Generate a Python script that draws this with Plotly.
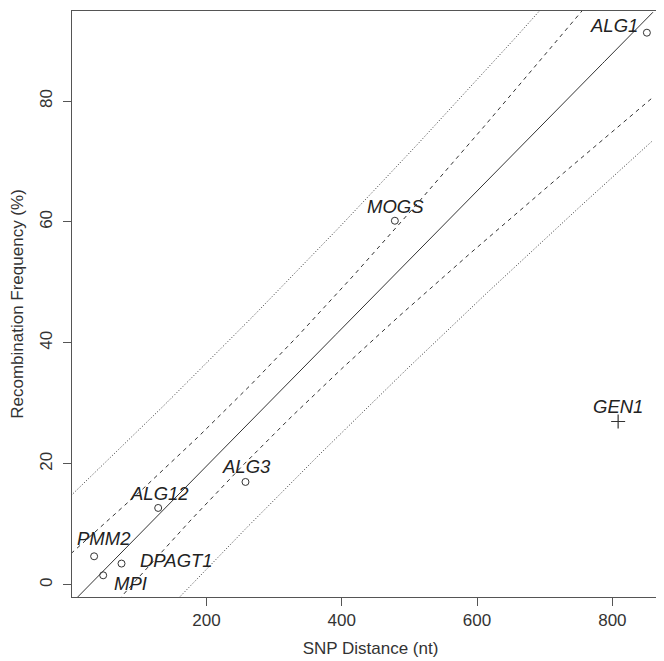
import numpy as np
import plotly.graph_objects as go

# genes used for the fit
genes = ["PMM2", "MPI", "DPAGT1", "ALG12", "ALG3", "MOGS", "ALG1"]
snp_dist = [34, 47.4, 74.5, 128.7, 257.7, 478.5, 851]
recomb_freq = [4.7, 1.56, 3.5, 12.7, 17.0, 60.2, 91.3]

# outlier, left out of the fit
outlier_gene = ["GEN1"]
outlier_dist = [808.5]
outlier_freq = [27.0]

x_ticks = [200, 400, 600, 800]
y_ticks = [0, 20, 40, 60, 80]

# label offsets in px (xshift, yshift)
label_shift = {
    "PMM2": (10, 18), "MPI": (27, -8), "DPAGT1": (55, 3), "ALG12": (1, 14),
    "ALG3": (1, 15), "MOGS": (1, 14), "ALG1": (-33, 7), "GEN1": (0, 15),
}

# linear fit with 95% confidence and prediction bands
x = np.array(snp_dist)
y = np.array(recomb_freq)
n = len(x)
slope, intercept = np.polyfit(x, y, 1)
resid = y - (slope * x + intercept)
s = np.sqrt(np.sum(resid ** 2) / (n - 2))
sxx = np.sum((x - x.mean()) ** 2)
t = 2.570582  # t(0.975, df=5)
xs = np.linspace(0, 860, 300)
fit = slope * xs + intercept
ci = t * s * np.sqrt(1 / n + (xs - x.mean()) ** 2 / sxx)
pi = t * s * np.sqrt(1 + 1 / n + (xs - x.mean()) ** 2 / sxx)

all_x = snp_dist + outlier_dist
all_y = recomb_freq + outlier_freq
xr = [min(all_x) - 0.04 * (max(all_x) - min(all_x)), max(all_x) + 0.04 * (max(all_x) - min(all_x))]
yr = [min(all_y) - 0.04 * (max(all_y) - min(all_y)), max(all_y) + 0.04 * (max(all_y) - min(all_y))]

fig = go.Figure()
line_col = "#333333"
fig.add_trace(go.Scatter(x=xs, y=fit, mode="lines", line=dict(color=line_col, width=1)))
for sign in (1, -1):
    fig.add_trace(go.Scatter(x=xs, y=fit + sign * ci, mode="lines",
                             line=dict(color=line_col, width=1, dash="4px,4px")))
    fig.add_trace(go.Scatter(x=xs, y=fit + sign * pi, mode="lines",
                             line=dict(color=line_col, width=1, dash="1px,2px")))

fig.add_trace(go.Scatter(x=snp_dist, y=recomb_freq, mode="markers",
                         marker=dict(symbol="circle-open", size=7, color=line_col,
                                     line=dict(width=1))))
fig.add_trace(go.Scatter(x=outlier_dist, y=outlier_freq, mode="markers",
                         marker=dict(symbol="cross-thin-open", size=10, color=line_col,
                                     line=dict(width=1.2, color=line_col))))

for g, gx, gy in zip(genes + outlier_gene, all_x, all_y):
    dx, dy = label_shift[g]
    fig.add_annotation(x=gx, y=gy, text=g, showarrow=False, xshift=dx, yshift=dy,
                       font=dict(size=18.5, color="#222222", style="italic"))

axis_style = dict(showline=True, mirror=True, linecolor="#555555", linewidth=1,
                  ticks="outside", ticklen=8, tickcolor="#555555", showgrid=False,
                  zeroline=False, automargin=False, tickfont=dict(size=17, color="#333333"))

fig.update_xaxes(range=xr, tickvals=x_ticks, title=dict(text="SNP Distance (nt)",
                 font=dict(size=17, color="#333333"), standoff=12), **axis_style)
fig.update_yaxes(range=yr, tickvals=y_ticks, tickangle=-90, ticklabelstandoff=4,
                 title=dict(text="Recombination Frequency (%)",
                            font=dict(size=17, color="#333333"), standoff=10), **axis_style)

fig.update_layout(width=664, height=661, showlegend=False,
                  margin=dict(l=64, r=3, t=3, b=72),
                  paper_bgcolor="white", plot_bgcolor="white",
                  font=dict(family="Liberation Sans, Arial, sans-serif"))

fig.write_html("out.html")
